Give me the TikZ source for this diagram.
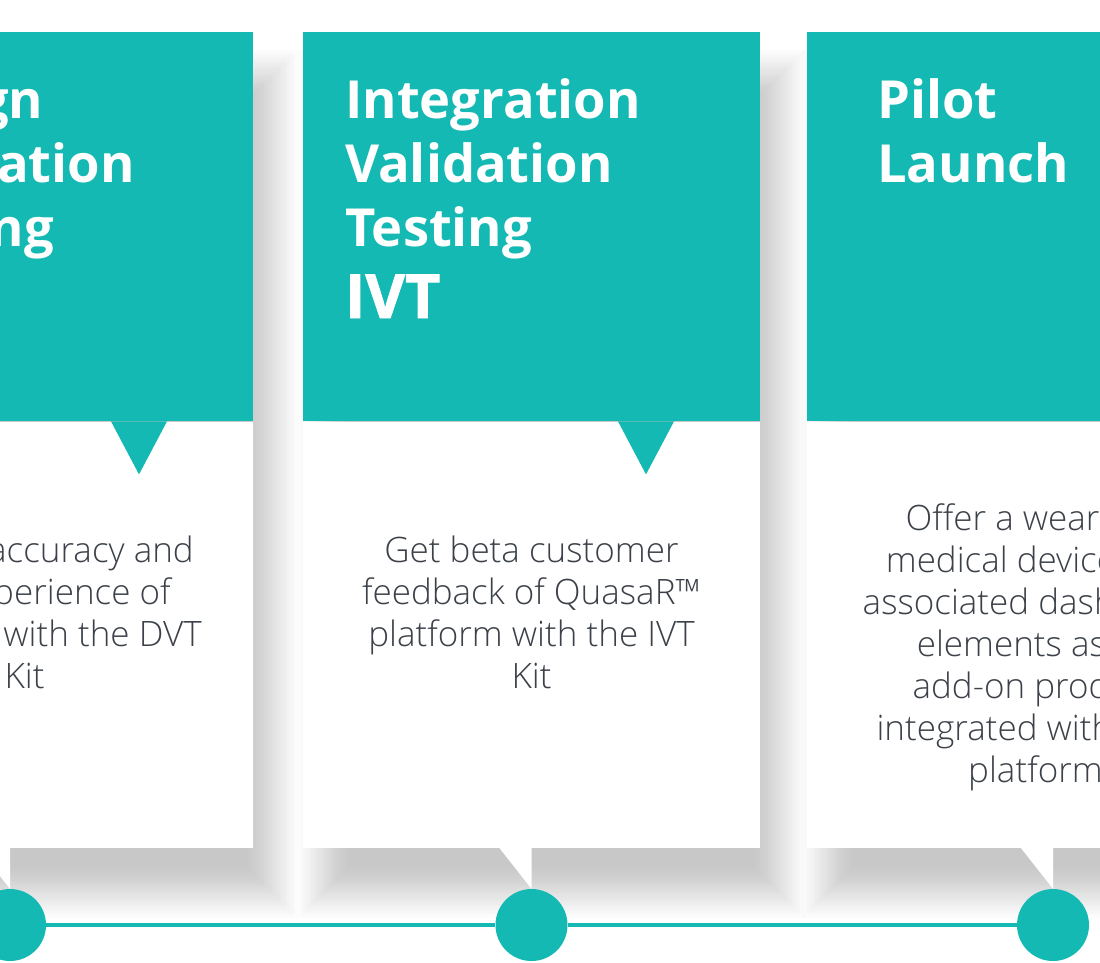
\documentclass[tikz,border=0pt]{standalone}
\usepackage{fontspec}
\setmainfont{Open Sans}
\newfontfamily\lightfont{Open Sans Light}
\newfontfamily\heavyfont[FakeBold=1.5]{Open Sans Bold}
\usepackage{tikz}
\usetikzlibrary{positioning}
\definecolor{tealmain}{HTML}{14B9B3}
\definecolor{bodytext}{HTML}{3C4149}

\begin{document}
\begin{tikzpicture}[x=1pt, y=-1pt,
    header/.style={fill=tealmain, minimum width=457pt, minimum height=389pt, inner sep=0pt, anchor=north west},
    panel/.style={fill=white, minimum width=457pt, minimum height=426pt, inner sep=0pt},
    title/.style={text=white, font=\bfseries\fontsize{52.5}{64}\selectfont, align=left, anchor=base west, inner sep=0pt},
    abbrev/.style={text=white, font=\heavyfont\fontsize{61}{72}\selectfont, anchor=base west, inner sep=0pt},
    desc/.style={text=bodytext, font=\lightfont\fontsize{35}{42}\selectfont, align=center, anchor=base, inner sep=0pt},
    dot/.style={circle, fill=tealmain, minimum size=72pt, inner sep=0pt},
    connector/.style={draw=tealmain, line width=4pt},
    layer/.style={fill=black, fill opacity=0.013}
]
\useasboundingbox (0,0) rectangle (1100,962);
\clip (0,0) rectangle (1100,962);

% soft shadows behind the cards
\foreach \cx in {-204,303,807} {
  \foreach \k in {0,...,19} {
    \pgfmathsetmacro{\e}{2.63*\k}
    \fill[layer] (\cx+45-\e,100-\e) rectangle (\cx+452+\e,868+\e);
  }
}

\node[header] (head1) at (-204,32) {};
\node[panel, below=0pt of head1] (panel1) {};
\node[header] (head2) at (303,32) {};
\node[panel, below=0pt of head2] (panel2) {};
\node[header] (head3) at (807,32) {};
\node[panel, below=0pt of head3] (panel3) {};

% notches under the headers
\foreach \n in {1,2,3}
  \fill[tealmain] (head\n.south west) ++(315,0) -- ++(56,0) -- ++(-28,53) -- cycle;

% base anchor sits on the last line
\node[title] (title1) at (-133,246) {Design\\Validation\\Testing};
\node[title] (title2) at (345,246) {Integration\\Validation\\Testing};
\node[abbrev] (abbrev2) at (345,318) {IVT};
\node[title] (title3) at (877,182) {Pilot\\Launch};

\node[desc] (desc1) at (24.5,688) {Test the accuracy and\\user experience of\\QuasaR™ with the DVT\\Kit};
\node[desc] (desc2) at (531.5,688) {Get beta customer\\feedback of QuasaR™\\platform with the IVT\\Kit};
\node[desc] (desc3) at (1035.5,782) {Offer a wearable\\medical device and\\associated dashboard\\elements as an\\add-on product\\integrated with their\\platform};

% timeline
\node[dot] (dot1) at (10,925) {};
\node[dot] (dot2) at (531.5,925) {};
\node[dot] (dot3) at (1053,925) {};
\foreach \n in {1,2,3}
  \fill[white] (dot\n.north) -- ([yshift=1pt]dot\n.north |- panel\n.south) -- ++(-33,0) -- cycle;
\draw[connector] (dot1) -- (dot2);
\draw[connector] (dot2) -- (dot3);
\end{tikzpicture}
\end{document}
